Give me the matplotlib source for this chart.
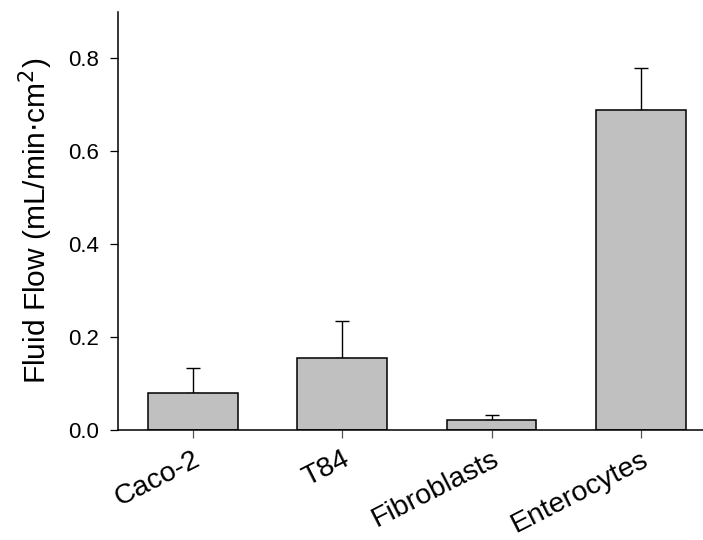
import numpy as np
import matplotlib.pyplot as plt

plt.rcParams['font.family'] = ['Liberation Sans', 'DejaVu Sans']

# Fluid flow per cell type (mean and upper SE)
cells = ['Caco-2', 'T84', 'Fibroblasts', 'Enterocytes']
flow = [0.079, 0.155, 0.021, 0.688]
flow_err = [0.053, 0.078, 0.011, 0.092]

fig = plt.figure(figsize=(7.03, 5.40), dpi=100)
ax = fig.add_axes([0.168, 0.2046, 0.832, 0.7732])

x = np.arange(len(cells))
ax.bar(x, flow, width=0.6, color='#c0c0c0', edgecolor='black', linewidth=1.1, zorder=2)
ax.errorbar(x, flow, yerr=[np.zeros(len(flow)), flow_err], fmt='none',
            ecolor='black', elinewidth=1, capsize=4.8, capthick=1, zorder=1)

ax.set_xlim(-0.5, 3.415)
ax.set_ylim(0, 0.9)
ax.set_yticks([0.0, 0.2, 0.4, 0.6, 0.8])
ax.set_yticklabels(['0.0', '0.2', '0.4', '0.6', '0.8'])
ax.set_xticks(x)
ax.set_xticklabels(cells, rotation=27, ha='right', rotation_mode='anchor')

ax.spines['top'].set_visible(False)
ax.spines['right'].set_visible(False)
ax.spines['left'].set_linewidth(1.1)
ax.spines['bottom'].set_linewidth(1.1)
ax.tick_params(axis='y', direction='out', length=6, width=0.9, labelsize=16, pad=8)
ax.tick_params(axis='x', direction='out', length=6, width=0.9, labelsize=20.5, pad=6, color='#555555')

ax.set_ylabel('Fluid Flow (mL/min$\\cdot$cm$^2$)', fontsize=21.5, labelpad=9)

plt.savefig('out.png', dpi=100)
